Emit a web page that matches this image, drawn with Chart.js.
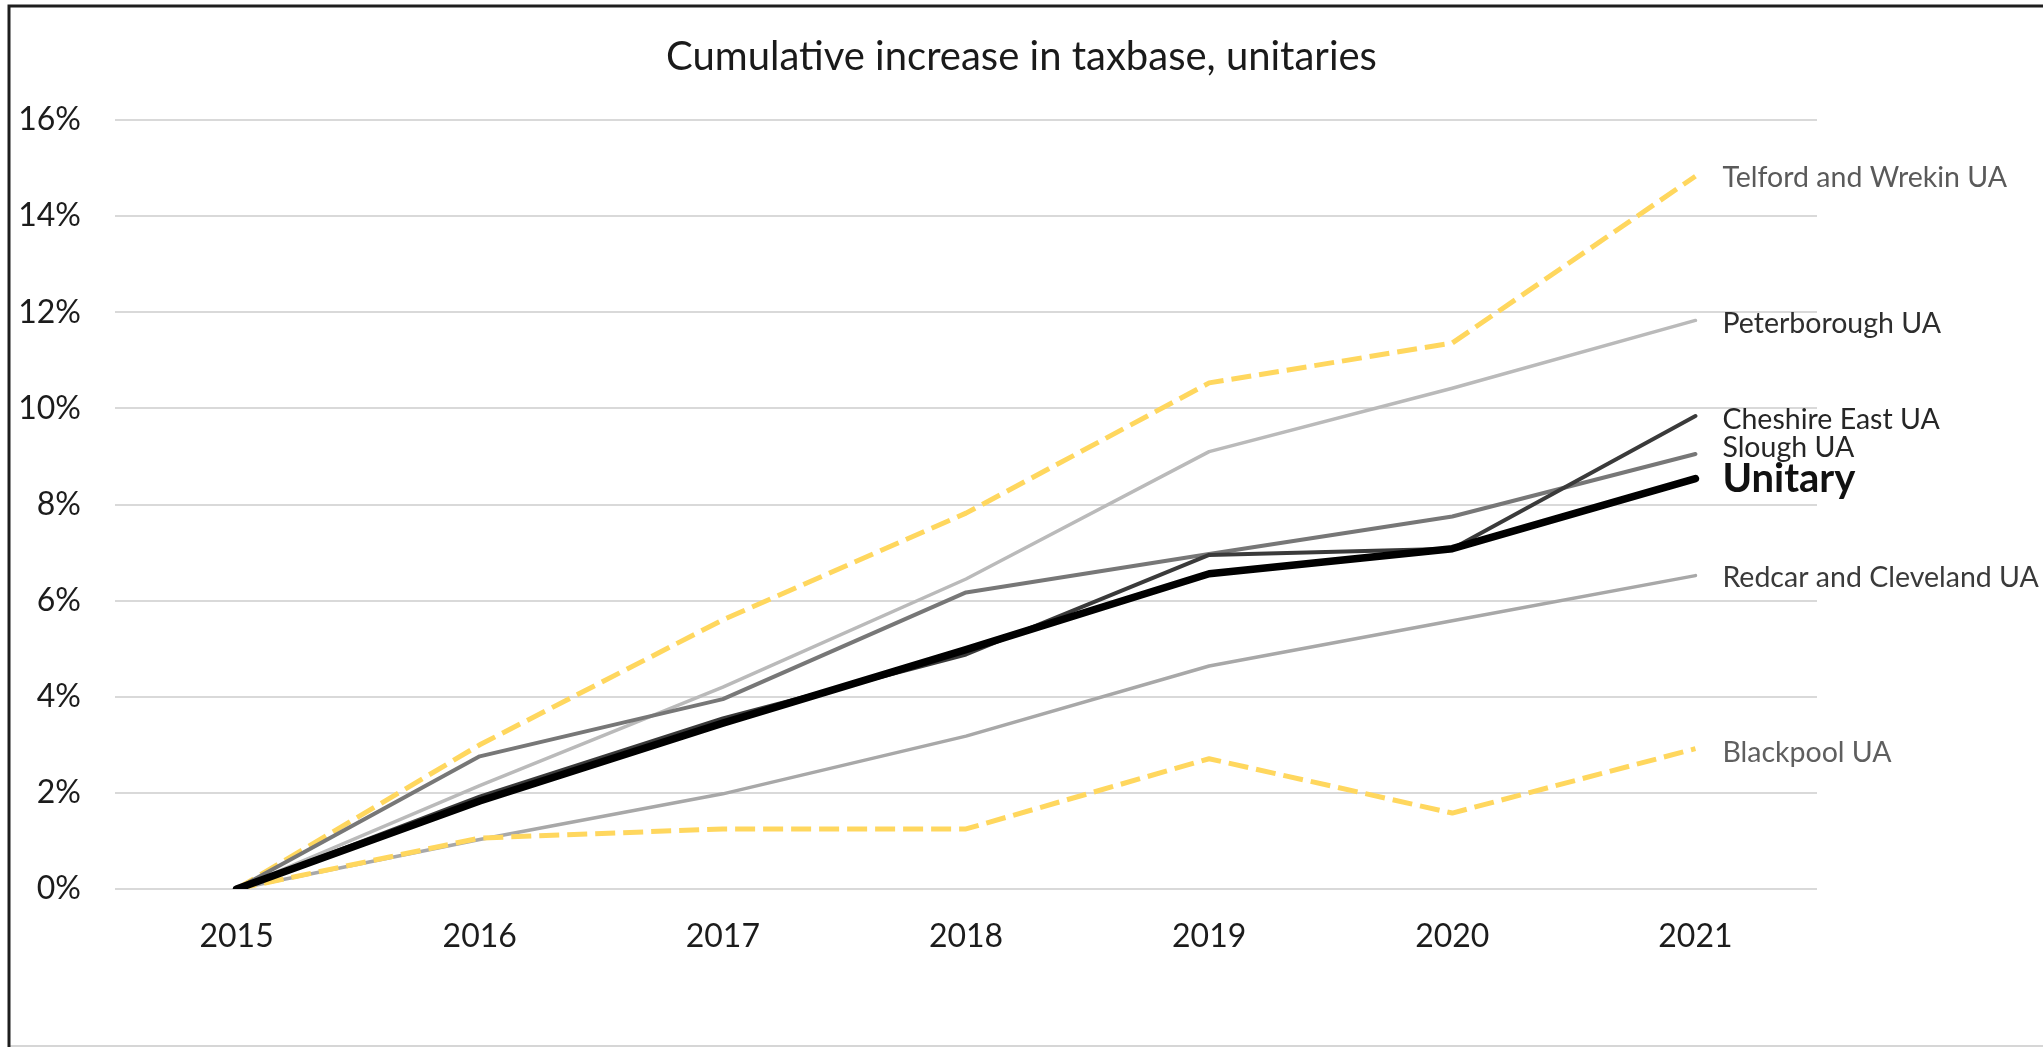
<!DOCTYPE html>
<html>
<head>
<meta charset="utf-8">
<script src="https://cdn.jsdelivr.net/npm/chart.js@4/dist/chart.umd.min.js"></script>
<style>
  html, body { margin: 0; padding: 0; background: #fff; overflow: hidden; }
  canvas { display: block; }
</style>
</head>
<body>
<canvas id="chart" width="2043" height="1047"></canvas>
<script>
// Years on the category axis
const years = ['2015', '2016', '2017', '2018', '2019', '2020', '2021'];

// Cumulative increase in taxbase since 2015, in percent
const telfordWrekin   = [0, 3.00, 5.60, 7.82, 10.53, 11.36, 14.83];
const peterborough    = [0, 2.15, 4.20, 6.45,  9.10, 10.42, 11.83];
const cheshireEast    = [0, 1.92, 3.55, 4.88,  6.95,  7.08,  9.84];
const slough          = [0, 2.76, 3.95, 6.17,  6.97,  7.75,  9.05];
const unitary         = [0, 1.83, 3.45, 4.98,  6.56,  7.08,  8.54];
const redcarCleveland = [0, 1.03, 1.98, 3.18,  4.64,  5.58,  6.52];
const blackpool       = [0, 1.06, 1.25, 1.25,  2.71,  1.58,  2.92];

// Y axis ticks (percent)
const yTicks = [0, 2, 4, 6, 8, 10, 12, 14, 16];

const FONT = 'Lato';

// White background plus the thin frame around the chart
const framePlugin = {
  id: 'frame',
  beforeDraw(chart) {
    const { ctx, width, height } = chart;
    ctx.save();
    ctx.fillStyle = '#ffffff';
    ctx.fillRect(0, 0, width, height);
    ctx.strokeStyle = '#d6d6d6';
    ctx.lineWidth = 2;
    ctx.beginPath();
    ctx.moveTo(9, height - 1);
    ctx.lineTo(width, height - 1);
    ctx.stroke();
    ctx.strokeStyle = '#1e1e1e';
    ctx.lineWidth = 3;
    ctx.beginPath();
    ctx.moveTo(9, height);
    ctx.lineTo(9, 6);
    ctx.lineTo(width, 6);
    ctx.stroke();
    ctx.restore();
  }
};

// Series names written just right of each line's last point
const endLabelPlugin = {
  id: 'endLabels',
  afterDatasetsDraw(chart, args, opts) {
    const ctx = chart.ctx;
    chart.data.datasets.forEach((ds, i) => {
      const meta = chart.getDatasetMeta(i);
      const last = meta.data[meta.data.length - 1];
      if (!last) return;
      const st = ds.endLabel;
      ctx.save();
      ctx.font = `${st.weight} ${st.size}px ${FONT}`;
      ctx.fillStyle = st.color;
      ctx.textAlign = 'left';
      ctx.textBaseline = 'middle';
      ctx.fillText(ds.label, last.x + opts.gap, last.y + st.dy);
      ctx.restore();
    });
  }
};

function line(label, data, color, width, dash, order, endLabel) {
  return {
    label, data, order, endLabel,
    borderColor: color,
    backgroundColor: color,
    borderWidth: width,
    borderDash: dash,
    borderCapStyle: dash.length ? 'butt' : 'round',
    borderJoinStyle: 'round',
    pointRadius: 0,
    pointHoverRadius: 0,
    tension: 0,
    fill: false
  };
}

const GOLD = '#FFD75E';

function build() {
  new Chart(document.getElementById('chart'), {
    type: 'line',
    data: {
      labels: years,
      datasets: [
        line('Telford and Wrekin UA', telfordWrekin, GOLD, 5, [20, 8], 7,
             { size: 28.5, weight: 'normal', color: '#5a5a5a', dy: 2 }),
        line('Peterborough UA', peterborough, '#bababa', 3.5, [], 6,
             { size: 28.5, weight: 'normal', color: '#2e2e2e', dy: 3 }),
        line('Redcar and Cleveland UA', redcarCleveland, '#a8a8a8', 3.5, [], 5,
             { size: 28.5, weight: 'normal', color: '#3a3a3a', dy: 2 }),
        line('Blackpool UA', blackpool, GOLD, 5, [20, 8], 4,
             { size: 28.5, weight: 'normal', color: '#5f5f5f', dy: 4 }),
        line('Slough UA', slough, '#777777', 4, [], 3,
             { size: 28.5, weight: 'normal', color: '#262626', dy: -6 }),
        line('Cheshire East UA', cheshireEast, '#3a3a3a', 4, [], 2,
             { size: 28.5, weight: 'normal', color: '#262626', dy: 4 }),
        line('Unitary', unitary, '#000000', 7.5, [], 1,
             { size: 40, weight: 'bold', color: '#111111', dy: 1 })
      ]
    },
    options: {
      responsive: false,
      animation: false,
      devicePixelRatio: 1,
      layout: { padding: 0 },
      plugins: {
        legend: { display: false },
        tooltip: { enabled: false },
        title: {
          display: true,
          text: 'Cumulative increase in taxbase, unitaries',
          color: '#1a1a1a',
          font: { family: FONT, size: 40, weight: 'normal', lineHeight: 1.2 },
          padding: { top: 33, bottom: 39 }
        },
        endLabels: { gap: 27 }
      },
      scales: {
        x: {
          offset: true,
          grid: { display: false, drawTicks: false },
          border: { display: false },
          ticks: {
            color: '#1c1c1c',
            font: { family: FONT, size: 32 },
            padding: 28,
            maxRotation: 0
          },
          afterFit(scale) { scale.height = 158; }
        },
        y: {
          min: yTicks[0],
          max: yTicks[yTicks.length - 1],
          afterBuildTicks(scale) { scale.ticks = yTicks.map(v => ({ value: v })); },
          grid: { color: '#d9d9d9', lineWidth: 2, drawTicks: false },
          border: { display: false },
          ticks: {
            color: '#1c1c1c',
            font: { family: FONT, size: 32 },
            padding: 34,
            callback: v => v + '%'
          },
          afterFit(scale) { scale.width = 115; }
        },
        // Empty right-hand axis that reserves the column for the series names
        labelColumn: {
          type: 'linear',
          position: 'right',
          min: yTicks[0],
          max: yTicks[yTicks.length - 1],
          grid: { display: false, drawTicks: false },
          border: { display: false },
          ticks: { display: false },
          afterFit(scale) { scale.width = 226; }
        }
      }
    },
    plugins: [framePlugin, endLabelPlugin]
  });
}

Promise.all([
  document.fonts.load(`32px ${FONT}`),
  document.fonts.load(`bold 40px ${FONT}`)
]).then(build, build);
</script>
</body>
</html>
